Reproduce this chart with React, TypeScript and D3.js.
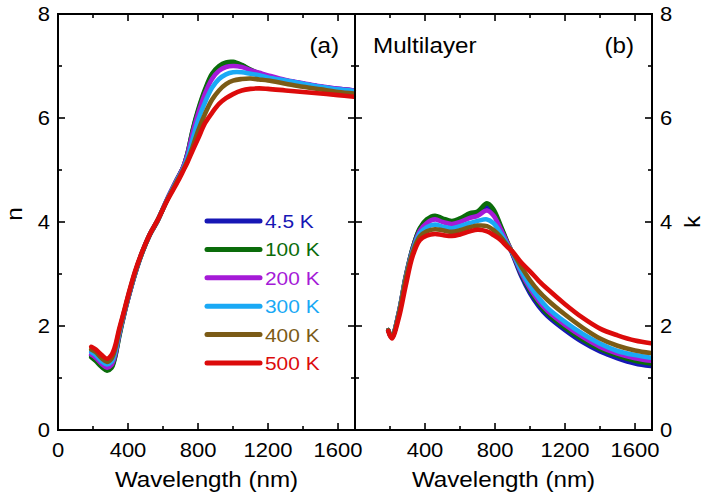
import React from "react";
import * as d3 from "d3";

// ---------- data ----------
const temperatures = ["4.5 K", "100 K", "200 K", "300 K", "400 K", "500 K"];
const seriesColors = ["#1717b5", "#0a6c0a", "#a51ad7", "#1aa9f5", "#7b5b16", "#dc0b0b"];

// panel (a): refractive index n
const wlN = [190, 215, 250, 280, 305, 325, 350, 380, 400, 440, 480, 524, 570, 622, 680, 715, 740, 770, 800, 840, 880, 920, 960, 1000, 1050, 1100, 1150, 1200, 1300, 1400, 1500, 1600, 1690];
const nT4 = [1.43, 1.36, 1.23, 1.16, 1.21, 1.4, 1.82, 2.26, 2.52, 3.0, 3.4, 3.75, 4.03, 4.42, 4.82, 5.05, 5.32, 5.76, 6.12, 6.52, 6.82, 6.98, 7.05, 7.06, 7.01, 6.92, 6.85, 6.8, 6.72, 6.66, 6.6, 6.56, 6.53];
const nT100 = [1.4, 1.33, 1.21, 1.14, 1.19, 1.38, 1.8, 2.25, 2.52, 3.0, 3.4, 3.75, 4.03, 4.42, 4.82, 5.05, 5.32, 5.78, 6.15, 6.55, 6.85, 7.0, 7.07, 7.08, 7.02, 6.93, 6.86, 6.8, 6.72, 6.66, 6.6, 6.55, 6.52];
const nT200 = [1.45, 1.39, 1.27, 1.2, 1.25, 1.43, 1.84, 2.27, 2.53, 3.01, 3.41, 3.76, 4.04, 4.43, 4.82, 5.05, 5.3, 5.72, 6.08, 6.47, 6.75, 6.91, 6.98, 7.0, 6.98, 6.92, 6.87, 6.82, 6.73, 6.67, 6.61, 6.56, 6.53];
const nT300 = [1.5, 1.44, 1.32, 1.26, 1.31, 1.48, 1.87, 2.29, 2.55, 3.02, 3.41, 3.76, 4.04, 4.42, 4.8, 5.02, 5.24, 5.6, 5.95, 6.3, 6.58, 6.75, 6.84, 6.88, 6.88, 6.85, 6.82, 6.78, 6.72, 6.66, 6.6, 6.55, 6.52];
const nT400 = [1.55, 1.5, 1.38, 1.31, 1.37, 1.54, 1.91, 2.3, 2.56, 3.03, 3.41, 3.76, 4.04, 4.41, 4.78, 5.0, 5.18, 5.45, 5.75, 6.08, 6.35, 6.53, 6.65, 6.72, 6.75, 6.76, 6.74, 6.72, 6.66, 6.6, 6.55, 6.5, 6.47];
const nT500 = [1.6, 1.55, 1.44, 1.37, 1.44, 1.6, 1.95, 2.32, 2.58, 3.05, 3.42, 3.76, 4.04, 4.4, 4.75, 4.98, 5.15, 5.38, 5.6, 5.9, 6.1, 6.27, 6.38, 6.46, 6.53, 6.56, 6.57, 6.56, 6.53, 6.5, 6.47, 6.44, 6.41];

// panel (b): extinction coefficient k
const wlK = [190, 210, 250, 290, 330, 370, 410, 457, 500, 554, 600, 657, 700, 754, 790, 830, 870, 900, 950, 1000, 1050, 1100, 1200, 1300, 1400, 1500, 1600, 1690];
const kT4 = [1.92, 1.78, 2.25, 2.95, 3.5, 3.86, 4.02, 4.08, 4.03, 3.99, 4.04, 4.13, 4.17, 4.3, 4.2, 3.92, 3.6, 3.38, 2.96, 2.63, 2.38, 2.19, 1.92, 1.69, 1.51, 1.38, 1.28, 1.23];
const kT100 = [1.92, 1.78, 2.25, 2.95, 3.5, 3.88, 4.05, 4.12, 4.07, 4.02, 4.07, 4.17, 4.2, 4.36, 4.25, 3.95, 3.62, 3.4, 3.0, 2.68, 2.43, 2.24, 1.97, 1.74, 1.56, 1.43, 1.33, 1.28];
const kT200 = [1.92, 1.78, 2.24, 2.93, 3.47, 3.83, 3.98, 4.05, 4.0, 3.96, 4.0, 4.08, 4.12, 4.22, 4.13, 3.88, 3.6, 3.4, 3.02, 2.72, 2.48, 2.29, 2.02, 1.79, 1.6, 1.47, 1.38, 1.33];
const kT300 = [1.92, 1.78, 2.23, 2.92, 3.45, 3.78, 3.9, 3.95, 3.91, 3.88, 3.92, 3.98, 4.02, 4.05, 3.98, 3.8, 3.57, 3.41, 3.06, 2.77, 2.54, 2.35, 2.08, 1.85, 1.66, 1.52, 1.44, 1.39];
const kT400 = [1.92, 1.78, 2.22, 2.9, 3.42, 3.72, 3.82, 3.86, 3.84, 3.81, 3.84, 3.9, 3.93, 3.92, 3.85, 3.72, 3.55, 3.42, 3.14, 2.88, 2.67, 2.5, 2.22, 1.97, 1.76, 1.62, 1.53, 1.48];
const kT500 = [1.9, 1.76, 2.15, 2.78, 3.35, 3.65, 3.74, 3.77, 3.75, 3.73, 3.76, 3.82, 3.85, 3.82, 3.75, 3.66, 3.52, 3.43, 3.22, 3.05, 2.87, 2.71, 2.42, 2.16, 1.95, 1.82, 1.72, 1.67];

const nSeries = [nT4, nT100, nT200, nT300, nT400, nT500];
const kSeries = [kT4, kT100, kT200, kT300, kT400, kT500];

const xMajorTicks = [0, 400, 800, 1200, 1600];
const xMinorTicks = [200, 600, 1000, 1400];
const yMajorTicks = [0, 2, 4, 6, 8];
const yMinorTicks = [1, 3, 5, 7];

// ---------- layout ----------
const W = 710;
const H = 497;
const top = 14;
const bottom = 430;
const aLeft = 58;
const mid = 355;
const bRight = 652;
const FONT = "'Liberation Sans', Arial, Helvetica, sans-serif";
const SX = 1.1; // horizontal stretch of the glyphs

const yScale = d3.scaleLinear().domain([0, 8]).range([bottom, top]);
const xA = d3.scaleLinear().domain([0, 1697]).range([aLeft, mid]);
const xB = d3.scaleLinear().domain([0, 1697]).range([mid, bRight]);

function T({ x, y, size, anchor = "start", fill = "#000", rotate = 0, children }: any) {
  return (
    <text
      transform={`translate(${x},${y}) rotate(${rotate}) scale(${SX},1)`}
      fontSize={size}
      fontFamily={FONT}
      textAnchor={anchor}
      fill={fill}
    >
      {children}
    </text>
  );
}

function Panel({ x, wl, series, left, right, labelLeft }: any) {
  const line = d3
    .line<number>()
    .x((_, i) => x(wl[i]))
    .y((d) => yScale(d))
    .curve(d3.curveCatmullRom.alpha(0.5));
  const maj = 7;
  const min = 4;
  return (
    <g>
      {series.map((s: number[], i: number) => (
        <path key={i} d={line(s) || ""} fill="none" stroke={seriesColors[i]} strokeWidth={4.6} strokeLinejoin="round" strokeLinecap="round" />
      ))}
      {/* frame */}
      <rect x={left} y={top} width={right - left} height={bottom - top} fill="none" stroke="#000" strokeWidth={2} />
      {/* x ticks */}
      {xMajorTicks.map((t) => (
        <g key={"xm" + t}>
          <line x1={x(t)} x2={x(t)} y1={bottom} y2={bottom - maj} stroke="#000" strokeWidth={1.6} />
          <line x1={x(t)} x2={x(t)} y1={top} y2={top + maj} stroke="#000" strokeWidth={1.6} />
        </g>
      ))}
      {xMinorTicks.map((t) => (
        <g key={"xn" + t}>
          <line x1={x(t)} x2={x(t)} y1={bottom} y2={bottom - min} stroke="#000" strokeWidth={1.6} />
          <line x1={x(t)} x2={x(t)} y1={top} y2={top + min} stroke="#000" strokeWidth={1.6} />
        </g>
      ))}
      {/* y ticks */}
      {yMajorTicks.map((t) => (
        <g key={"ym" + t}>
          <line x1={left} x2={left + maj} y1={yScale(t)} y2={yScale(t)} stroke="#000" strokeWidth={1.6} />
          <line x1={right} x2={right - maj} y1={yScale(t)} y2={yScale(t)} stroke="#000" strokeWidth={1.6} />
        </g>
      ))}
      {yMinorTicks.map((t) => (
        <g key={"yn" + t}>
          <line x1={left} x2={left + min} y1={yScale(t)} y2={yScale(t)} stroke="#000" strokeWidth={1.6} />
          <line x1={right} x2={right - min} y1={yScale(t)} y2={yScale(t)} stroke="#000" strokeWidth={1.6} />
        </g>
      ))}
      {xMajorTicks
        .filter((t) => labelLeft || t > 0)
        .map((t) => (
          <T key={"xl" + t} x={x(t)} y={457} size={20} anchor="middle">
            {String(t)}
          </T>
        ))}
      <T x={(left + right) / 2} y={487} size={22} anchor="middle">
        Wavelength (nm)
      </T>
    </g>
  );
}

export default function App() {
  return (
    <svg width={W} height={H} style={{ position: "absolute", left: 0, top: 0, background: "#fff" }}>
      <rect x={0} y={0} width={W} height={H} fill="#fff" />
      <Panel x={xA} wl={wlN} series={nSeries} left={aLeft} right={mid} labelLeft={true} />
      <Panel x={xB} wl={wlK} series={kSeries} left={mid} right={bRight} labelLeft={false} />
      {/* y tick labels */}
      {yMajorTicks.map((t) => (
        <T key={"yl" + t} x={50} y={yScale(t) + 7} size={20} anchor="end">
          {String(t)}
        </T>
      ))}
      {yMajorTicks.map((t) => (
        <T key={"yr" + t} x={660} y={yScale(t) + 7} size={20} anchor="start">
          {String(t)}
        </T>
      ))}
      {/* axis titles */}
      <T x={22} y={214} size={22} anchor="middle" rotate={-90}>
        n
      </T>
      <T x={700} y={222} size={22} anchor="middle" rotate={-90}>
        k
      </T>
      {/* annotations */}
      <T x={339} y={53} size={22} anchor="end">
        (a)
      </T>
      <T x={634} y={53} size={22} anchor="end">
        (b)
      </T>
      <T x={373} y={53} size={22} anchor="start">
        Multilayer
      </T>
      {/* legend */}
      {temperatures.map((label, i) => {
        const y = 221 + i * 28.4;
        return (
          <g key={label}>
            <line x1={207} x2={260} y1={y} y2={y} stroke={seriesColors[i]} strokeWidth={5} strokeLinecap="round" />
            <T x={265} y={y + 7} size={19} fill={seriesColors[i]}>
              {label}
            </T>
          </g>
        );
      })}
    </svg>
  );
}
